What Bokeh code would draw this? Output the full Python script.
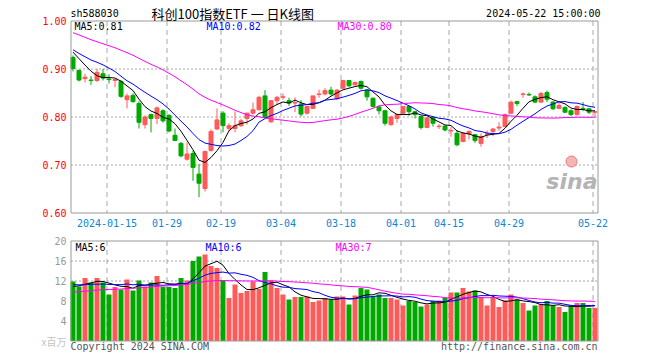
import numpy as np
from bokeh.plotting import figure
from bokeh.models import Range1d
from bokeh.core.properties import value
from bokeh.embed import file_html
from bokeh.resources import INLINE

# ---------------- data ----------------
open_ = [0.924, 0.897, 0.880, 0.877, 0.876, 0.890, 0.879, 0.876, 0.874, 0.836,
         0.845, 0.828, 0.784, 0.805, 0.797, 0.813, 0.803, 0.762, 0.745, 0.712,
         0.724, 0.681, 0.651, 0.730, 0.775, 0.808, 0.776, 0.776, 0.782, 0.797,
         0.808, 0.815, 0.844, 0.790, 0.834, 0.841, 0.834, 0.829, 0.827, 0.808,
         0.818, 0.847, 0.848, 0.856, 0.838, 0.860, 0.876, 0.867, 0.874, 0.856,
         0.839, 0.821, 0.813, 0.784, 0.797, 0.808, 0.822, 0.811, 0.801, 0.778,
         0.799, 0.780, 0.781, 0.771, 0.766, 0.749, 0.765, 0.763, 0.745, 0.764,
         0.770, 0.777, 0.780, 0.808, 0.832, 0.847, 0.847, 0.842, 0.831, 0.851,
         0.831, 0.818, 0.820, 0.813, 0.805, 0.818, 0.817, 0.810]
high = [0.928, 0.899, 0.890, 0.885, 0.900, 0.900, 0.889, 0.879, 0.877, 0.849,
        0.849, 0.833, 0.803, 0.807, 0.822, 0.816, 0.806, 0.776, 0.748, 0.747,
        0.730, 0.702, 0.730, 0.774, 0.818, 0.812, 0.787, 0.812, 0.796, 0.809,
        0.830, 0.844, 0.856, 0.835, 0.844, 0.849, 0.840, 0.841, 0.835, 0.823,
        0.844, 0.857, 0.860, 0.863, 0.858, 0.877, 0.877, 0.874, 0.876, 0.858,
        0.841, 0.823, 0.815, 0.803, 0.806, 0.823, 0.824, 0.813, 0.803, 0.800,
        0.802, 0.785, 0.783, 0.779, 0.772, 0.768, 0.772, 0.765, 0.766, 0.772,
        0.777, 0.789, 0.807, 0.834, 0.834, 0.851, 0.851, 0.845, 0.852, 0.855,
        0.833, 0.829, 0.822, 0.816, 0.824, 0.831, 0.818, 0.812]
low = [0.895, 0.874, 0.872, 0.867, 0.873, 0.876, 0.870, 0.862, 0.840, 0.818,
       0.830, 0.776, 0.776, 0.768, 0.785, 0.788, 0.768, 0.751, 0.716, 0.709,
       0.667, 0.633, 0.645, 0.728, 0.773, 0.768, 0.771, 0.768, 0.779, 0.784,
       0.805, 0.814, 0.798, 0.788, 0.826, 0.836, 0.823, 0.810, 0.801, 0.805,
       0.817, 0.840, 0.845, 0.845, 0.836, 0.859, 0.862, 0.866, 0.857, 0.834,
       0.820, 0.805, 0.782, 0.782, 0.788, 0.807, 0.803, 0.797, 0.774, 0.777,
       0.780, 0.775, 0.770, 0.759, 0.739, 0.747, 0.753, 0.746, 0.738, 0.756,
       0.760, 0.771, 0.779, 0.806, 0.823, 0.840, 0.844, 0.829, 0.829, 0.831,
       0.815, 0.816, 0.808, 0.802, 0.803, 0.812, 0.806, 0.800]
close = [0.901, 0.877, 0.883, 0.876, 0.893, 0.881, 0.878, 0.878, 0.843, 0.844,
         0.832, 0.789, 0.800, 0.797, 0.819, 0.792, 0.771, 0.751, 0.719, 0.723,
         0.695, 0.662, 0.728, 0.770, 0.794, 0.782, 0.782, 0.782, 0.792, 0.808,
         0.815, 0.841, 0.799, 0.834, 0.841, 0.842, 0.829, 0.830, 0.806, 0.822,
         0.844, 0.848, 0.855, 0.848, 0.856, 0.876, 0.865, 0.872, 0.860, 0.842,
         0.822, 0.813, 0.787, 0.800, 0.805, 0.822, 0.811, 0.805, 0.778, 0.798,
         0.787, 0.781, 0.773, 0.772, 0.742, 0.766, 0.770, 0.751, 0.759, 0.765,
         0.775, 0.779, 0.805, 0.831, 0.828, 0.848, 0.846, 0.831, 0.849, 0.837,
         0.817, 0.824, 0.810, 0.805, 0.822, 0.817, 0.810, 0.811]
volume = [11.9, 10.9, 12.6, 11.7, 12.6, 11.7, 9.3, 10.8, 10.3, 12.3,
          10.1, 12.1, 10.9, 11.7, 13.0, 10.8, 10.8, 10.6, 12.6, 12.1,
          16.0, 16.9, 17.3, 15.0, 14.6, 12.0, 8.6, 11.3, 9.6, 10.0,
          11.9, 10.4, 13.8, 12.1, 10.6, 9.3, 8.3, 8.8, 8.8, 8.9,
          7.8, 8.1, 8.6, 8.3, 8.9, 8.9, 7.3, 9.1, 10.6, 10.3,
          8.9, 9.3, 8.6, 8.6, 8.3, 7.1, 8.0, 7.8, 6.9, 7.3,
          8.0, 8.1, 8.6, 9.7, 9.7, 10.6, 9.9, 10.1, 8.8, 7.1,
          8.8, 6.8, 8.1, 9.3, 8.3, 7.6, 6.1, 7.1, 7.3, 8.0,
          7.1, 6.8, 5.8, 7.1, 7.6, 7.6, 6.6, 6.6]
# sessions before the first visible candle (they only feed the moving averages)
prior_close = [1.020, 1.030, 1.025, 1.020, 1.010, 1.000, 1.005, 0.995, 1.000, 0.990,
               0.985, 0.990, 0.980, 0.985, 0.975, 0.980, 0.970, 0.975, 0.965, 0.970,
               0.955, 0.950, 0.945, 0.940, 0.935, 0.945, 0.950, 0.940, 0.940]
prior_volume = [9.5, 8.8, 9.2, 8.5, 9.0, 8.7, 9.4, 8.9, 9.1, 8.6,
                9.3, 8.8, 9.0, 9.2, 8.9, 9.1, 9.4, 9.0, 9.3, 9.3,
                11.5, 12.2, 11.0, 12.4, 11.3, 10.2, 11.0, 10.5, 10.9]
tick_index = [6, 16, 25, 35, 45, 55, 63, 73, 87]
tick_labels = ["2024-01-15", "01-29", "02-19", "03-04", "03-18",
               "04-01", "04-15", "04-29", "05-22"]
price_ticks = [1.0, 0.9, 0.8, 0.7, 0.6]
price_tick_labels = ["1.00", "0.90", "0.80", "0.70", "0.60"]
price_grid = [0.7, 0.8, 0.9]
vol_ticks = [20, 16, 12, 8, 4]
vol_tick_labels = ["20", "16", "12", "8", "4"]
vol_grid = [12, 16]
price_legend = ["MA5:0.81", "MA10:0.82", "MA30:0.80"]
vol_legend = ["MA5:6", "MA10:6", "MA30:7"]
code = "sh588030"
title = "科创100指数ETF 一 日K线图"
stamp = "2024-05-22 15:00:00"

# ---------------- helpers / style ----------------
def moving_avg(prior, series, n):
    a = np.array(prior + series, dtype=float)
    k = len(prior)
    return np.array([a[k + i - n + 1:k + i + 1].mean() for i in range(len(series))])

UP = "#ff5a5a"
DOWN = "#00a800"
GRID = "#a8a8a8"
FRAME = "#9a9a9a"
MONO = "DejaVu Sans Mono"
CJK = "Noto Sans CJK SC"
W, H = 660, 360
PLOT_L = 70            # page x of the panels' left edge
P_TOP, P_PX = 20.5, 480.0   # page y of price 1.00; pixels per 1.00 of price
V_ZERO, V_PX = 340.5, 5.0   # page y of volume 0; pixels per 1 million
slot = 6

n = len(close)
idx = np.arange(n)
left = idx * slot
right = left + 5
mid = left + 2.5
o = np.array(open_); c = np.array(close); h = np.array(high); lo = np.array(low)
colors = [UP if c[i] >= o[i] else DOWN for i in range(n)]
top = np.maximum(o, c); bot = np.minimum(o, c)
xticks = [t * slot + 0.5 for t in tick_index]
x_end = n * slot - 0.5

ma_c = {k: moving_avg(prior_close, close, k) for k in (5, 10, 30)}
ma_v = {k: moving_avg(prior_volume, volume, k) for k in (5, 10, 30)}
ma_colors = {5: "#000000", 10: "#0000ff", 30: "#ff00ff"}

# one canvas; page-pixel ranges by default, data ranges for the marks
p = figure(width=W, height=H, x_range=Range1d(0, W), y_range=Range1d(H, 0),
           x_axis_location=None, y_axis_location=None, min_border=0,
           output_backend="svg", toolbar_location=None, tools="")
p.min_border_left = p.min_border_right = p.min_border_top = p.min_border_bottom = 0
p.outline_line_color = None
p.grid.visible = False
p.extra_x_ranges = {"slot": Range1d(-PLOT_L, W - PLOT_L)}
p.extra_y_ranges = {
    "price": Range1d(1.0 - (H - P_TOP) / P_PX, 1.0 + P_TOP / P_PX),
    "vol": Range1d(-(H - V_ZERO) / V_PX, V_ZERO / V_PX),
}
PR = dict(x_range_name="slot", y_range_name="price")
VR = dict(x_range_name="slot", y_range_name="vol")

# ---- grids ----
p.segment(x0=[0.5] * 3, x1=[x_end] * 3, y0=price_grid, y1=price_grid,
          line_color=GRID, line_dash="2 2", line_width=1, **PR)
p.segment(x0=xticks, x1=xticks, y0=[1.0] * len(xticks), y1=[0.6] * len(xticks),
          line_color=GRID, line_dash="5 4", line_width=1, **PR)
p.segment(x0=[0.5] * 2, x1=[x_end] * 2, y0=vol_grid, y1=vol_grid,
          line_color=GRID, line_dash="2 2", line_width=1, **VR)
p.segment(x0=xticks, x1=xticks, y0=[20] * len(xticks), y1=[0] * len(xticks),
          line_color=GRID, line_dash="5 4", line_width=1, **VR)

# ---- candles ----
p.segment(x0=mid, y0=lo, x1=mid, y1=h, line_color=colors, line_width=1, **PR)
p.quad(left=left + 0.5, right=right - 0.5, top=top, bottom=bot,
       fill_color=colors, line_color=colors, line_width=1, **PR)
for k in (5, 10, 30):
    p.line(mid, ma_c[k], line_color=ma_colors[k], line_width=1, **PR)

# ---- volume ----
p.quad(left=left, right=right, top=volume, bottom=0, fill_color=colors,
       line_color=None, **VR)
for k in (5, 10, 30):
    p.line(mid, ma_v[k], line_color=ma_colors[k], line_width=1, **VR)

# ---- frames ----
p.quad(left=[0.5], right=[x_end], top=[1.0], bottom=[0.6], fill_color=None,
       line_color=FRAME, line_width=1, **PR)
p.quad(left=[0.5], right=[x_end], top=[20], bottom=[0], fill_color=None,
       line_color=FRAME, line_width=1, **VR)

# ---- texts ----
def txt(x, y, text, color, font=MONO, size="10px", align="left", **rng):
    p.text(x=x, y=y, text=text, text_font=value(font), text_font_size=value(size),
           text_color=color, text_align=align, text_baseline="middle", **rng)

# axis labels
txt([66] * 5, price_ticks, price_tick_labels, "#ff0000", align="right",
    y_range_name="price")
txt([66] * 5, vol_ticks, vol_tick_labels, "#999999", align="right",
    y_range_name="vol")
txt([66], [0], ["x百万"], "#c4c4c4", font=CJK, align="right", y_range_name="vol")
txt(xticks, [222] * len(xticks), tick_labels, "#0e86d4", align="center",
    x_range_name="slot")

# header
txt([70], [12.5], [code], "#000000")
txt([151], [12.5], [title], "#000000", font=CJK, size="13px")
txt([600], [12.5], [stamp], "#000000", align="right")

# legends
txt([74, 206, 337], [26] * 3, price_legend, [ma_colors[5], ma_colors[10], ma_colors[30]])
txt([75, 205, 335], [246.5] * 3, vol_legend, [ma_colors[5], ma_colors[10], ma_colors[30]])

# footer
txt([70], [346], ["Copyright 2024 SINA.COM"], "#555555")
txt([597], [346], ["http://finance.sina.com.cn"], "#555555", align="right")

# watermark
p.scatter(x=[571], y=[161], size=11, fill_color="#f6b4b4", line_color="#e47c7c",
          marker="circle")
p.text(x=[597], y=[193], text=["sina"], text_font=value("DejaVu Sans"),
       text_font_size=value("22px"), text_font_style="bold italic",
       text_color="#b4b4b4", text_align="right", text_baseline="bottom")

open("out.html", "w").write(file_html(p, INLINE))
